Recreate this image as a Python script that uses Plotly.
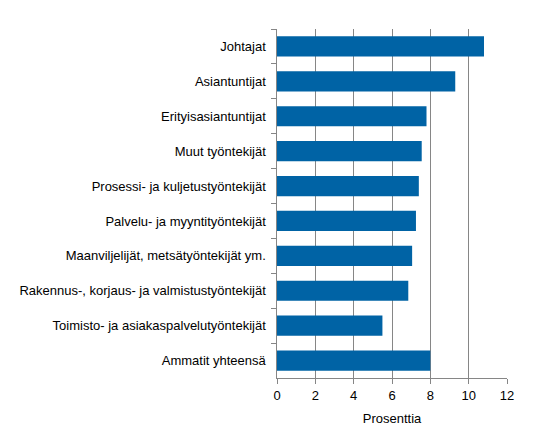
import plotly.graph_objects as go

# Occupational groups, top to bottom as shown
categories = [
    'Johtajat',
    'Asiantuntijat',
    'Erityisasiantuntijat',
    'Muut työntekijät',
    'Prosessi- ja kuljetustyöntekijät',
    'Palvelu- ja myyntityöntekijät',
    'Maanviljelijät, metsätyöntekijät ym.',
    'Rakennus-, korjaus- ja valmistustyöntekijät',
    'Toimisto- ja asiakaspalvelutyöntekijät',
    'Ammatit yhteensä',
]
values = [10.8, 9.3, 7.8, 7.55, 7.4, 7.25, 7.05, 6.85, 5.5, 8.0]
x_ticks = [0, 2, 4, 6, 8, 10, 12]

axis_grey = '#868686'

fig = go.Figure()

fig.add_trace(go.Bar(
    x=values,
    y=categories,
    orientation='h',
    marker=dict(color='#0063A5', line=dict(width=0)),
    showlegend=False
))

# page body adds an 8px offset, so the figure is sized 8px smaller
fig.update_layout(
    width=535,
    height=433,
    margin=dict(l=269, r=36, t=21, b=63),
    paper_bgcolor='white',
    plot_bgcolor='white',
    bargap=0.42,
    font=dict(family='Liberation Sans, Arial, sans-serif', size=13, color='black'),
    xaxis=dict(
        range=[0, 12],
        tickvals=x_ticks,
        showgrid=True,
        gridcolor=axis_grey,
        gridwidth=1,
        zeroline=False,
        showline=True,
        linecolor=axis_grey,
        ticks='outside',
        ticklen=5,
        tickcolor=axis_grey,
        title=dict(text='Prosenttia', standoff=12, font=dict(size=13)),
    ),
    yaxis=dict(
        autorange='reversed',
        showgrid=False,
        showline=True,
        linecolor=axis_grey,
        ticks='outside',
        tickson='boundaries',
        ticklen=5,
        tickcolor=axis_grey,
        ticksuffix=' ',
        ticklabelstandoff=4,
    ),
)

fig.write_html("out.html")
